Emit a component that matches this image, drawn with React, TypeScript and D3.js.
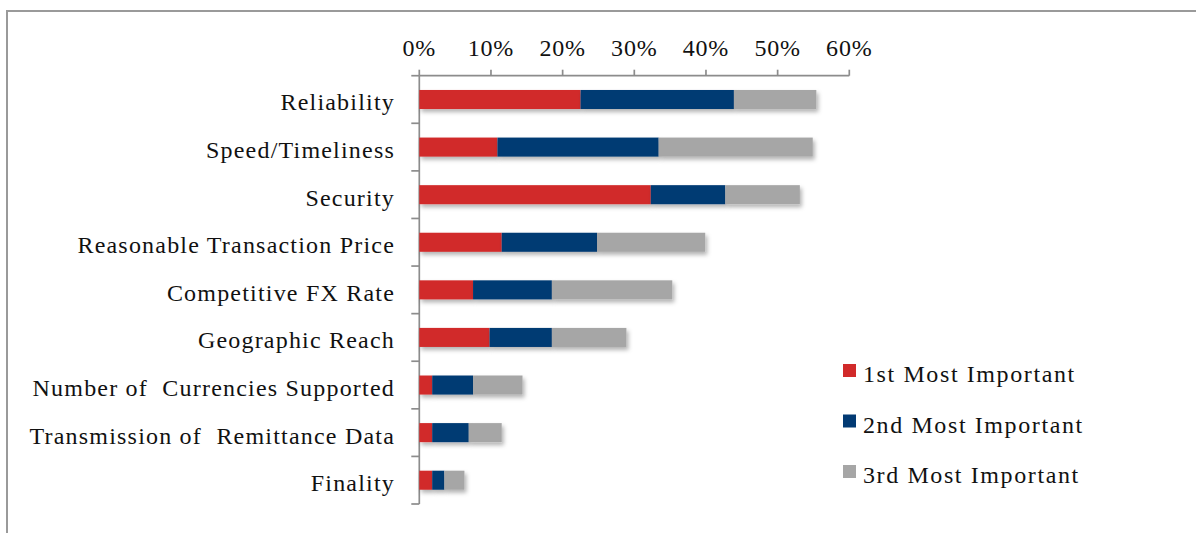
import React from "react";
import * as d3 from "d3";

const categories = [
  "Reliability",
  "Speed/Timeliness",
  "Security",
  "Reasonable Transaction Price",
  "Competitive FX Rate",
  "Geographic Reach",
  "Number of  Currencies Supported",
  "Transmission of  Remittance Data",
  "Finality",
];
const first = [22.5, 10.9, 32.3, 11.5, 7.5, 9.8, 1.8, 1.8, 1.8];
const second = [21.4, 22.5, 10.4, 13.3, 11.0, 8.7, 5.7, 5.1, 1.7];
const third = [11.5, 21.5, 10.4, 15.1, 16.8, 10.4, 6.9, 4.6, 2.8];
const seriesNames = ["1st Most Important", "2nd Most Important", "3rd Most Important"];
const seriesColors = ["#D12A2A", "#023A73", "#A6A6A6"];
const xTicks = [0, 10, 20, 30, 40, 50, 60];

const W = 1196;
const H = 533;
const FONT = "'Liberation Serif', 'Times New Roman', serif";
const AX = "#8c8c8c";

export default function App() {
  const left = 419.3;
  const right = 849.3;
  const top = 75.7;
  const bottom = 504;
  const x = d3.scaleLinear().domain([0, 60]).range([left, right]);
  const y = d3.scaleBand().domain(categories).range([top, bottom]).paddingInner(0.6).paddingOuter(0.3);
  const yOuter = d3.scaleBand().domain(categories).range([top, bottom]);

  const rows = categories.map((c, i) => ({ c, vals: [first[i], second[i], third[i]] }));
  const stack = d3.stack<any>().keys(["0", "1", "2"]).value((d: any, k: string) => d.vals[+k]);
  const stacked = stack(rows as any);

  return (
    <svg width={W} height={H} style={{ position: "absolute", left: 0, top: 0, background: "#fff" }} fontFamily={FONT}>
      <defs>
        <filter id="sh" x="-10%" y="-30%" width="130%" height="190%">
          <feDropShadow dx="2" dy="3" stdDeviation="2" floodColor="#000" floodOpacity="0.3" />
        </filter>
      </defs>
      <rect x={7} y={11} width={W + 10} height={H + 10} fill="#fff" stroke="#9a9a9a" strokeWidth={2} />

      {/* top axis */}
      <line x1={left} x2={right} y1={top} y2={top} stroke={AX} strokeWidth={1.7} />
      {xTicks.map((t) => (
        <g key={t}>
          <line x1={x(t)} x2={x(t)} y1={top} y2={top - 6} stroke={AX} strokeWidth={1.7} />
          <text x={x(t)} y={56} textAnchor="middle" fontSize={24} letterSpacing={0.8} fill="#111">
            {t}%
          </text>
        </g>
      ))}

      {/* left axis */}
      <line x1={left} x2={left} y1={top} y2={bottom} stroke={AX} strokeWidth={1.7} />
      {categories.map((c) => (
        <line key={c} x1={left - 8} x2={left} y1={yOuter(c)!} y2={yOuter(c)!} stroke={AX} strokeWidth={1.7} />
      ))}
      <line x1={left - 8} x2={left} y1={bottom} y2={bottom} stroke={AX} strokeWidth={1.7} />

      {/* bars */}
      {stacked.map((s, si) => (
        <g key={si} filter="url(#sh)">
          {s.map((d: any, i: number) => (
            <rect
              key={i}
              x={x(d[0])}
              width={x(d[1]) - x(d[0])}
              y={y(categories[i])!}
              height={y.bandwidth()}
              fill={seriesColors[si]}
            />
          ))}
        </g>
      ))}

      {/* category labels */}
      {categories.map((c) => (
        <text
          key={c}
          x={395}
          y={yOuter(c)! + yOuter.bandwidth() / 2 + 11}
          textAnchor="end"
          fontSize={24}
          letterSpacing={1.2}
          fill="#111"
          style={{ whiteSpace: "pre" }}
        >
          {c}
        </text>
      ))}

      {/* legend */}
      {seriesNames.map((n, i) => (
        <g key={n} transform={`translate(843, ${364 + i * 50.5})`}>
          <rect width={13} height={13} fill={seriesColors[i]} />
          <text x={20} y={18} fontSize={24} letterSpacing={1.6} fill="#111">
            {n}
          </text>
        </g>
      ))}
    </svg>
  );
}
